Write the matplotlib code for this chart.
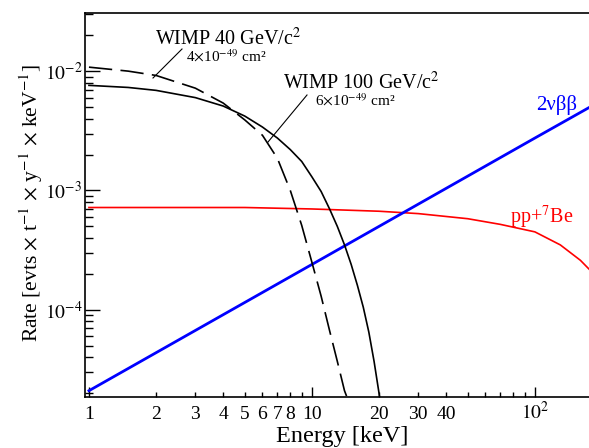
import matplotlib
matplotlib.use("Agg")
import matplotlib.pyplot as plt
from matplotlib.ticker import FixedLocator, FixedFormatter, NullFormatter

plt.rcParams['font.family'] = ['Liberation Serif', 'DejaVu Serif']
plt.rcParams['mathtext.fontset'] = 'stix'

# ---- data ----
E_bb = [1, 10, 100, 200]
R_bb = [2.1e-5, 2.4e-4, 2.75e-3, 5.7e-3]

E_pp = [1, 2, 5, 10, 20, 30, 50, 70, 100, 130, 160, 200]
R_pp = [7.2e-4, 7.2e-4, 7.2e-4, 7.0e-4, 6.7e-4, 6.4e-4, 5.8e-4, 5.2e-4, 4.5e-4, 3.5e-4, 2.6e-4, 1.7e-4]

E_w100 = [1, 1.5, 2, 3, 4, 5, 6, 7, 8, 9, 10, 11, 12, 13, 14, 15, 16, 17, 18, 19, 20, 21]
R_w100 = [7.6e-3, 7.3e-3, 6.9e-3, 6.0e-3, 5.1e-3, 4.2e-3, 3.4e-3, 2.75e-3, 2.2e-3, 1.75e-3,
          1.3e-3, 9.8e-4, 7.0e-4, 5.0e-4, 3.5e-4, 2.4e-4, 1.6e-4, 1.05e-4, 6.5e-5, 3.7e-5,
          2.0e-5, 1.0e-5]

E_w40 = [1, 1.5, 2, 3, 4, 5, 6, 7, 8, 9, 10, 11, 12, 13, 14, 15, 16]
R_w40 = [1.08e-2, 1.0e-2, 9.2e-3, 7.2e-3, 5.4e-3, 3.9e-3, 2.9e-3, 1.86e-3, 1.0e-3, 5.1e-4,
         2.5e-4, 1.3e-4, 6.7e-5, 3.7e-5, 2.1e-5, 1.5e-5, 1.0e-5]

x_major = [1, 10, 100]
x_minor = [2, 3, 4, 5, 6, 7, 8, 9, 20, 30, 40, 50, 60, 70, 80, 90, 200]
x_minor_labels = ['2', '3', '4', '5', '6', '7', '8', '', '20', '30', '40', '', '', '', '', '', '']
x_major_labels = ['1', '10', r'$10^2$']
y_major = [1e-4, 1e-3, 1e-2]
y_major_labels = [r'$10^{-4}$', r'$10^{-3}$', r'$10^{-2}$']

W, H = 589, 448
fig = plt.figure(figsize=(W / 100, H / 100), dpi=100)
ax = fig.add_axes([85 / W, 1 - 397 / H, (602 - 85) / W, (397 - 13) / H])

ax.set_xscale('log')
ax.set_yscale('log')
ax.set_xlim(0.96, 200)
ax.set_ylim(1.86e-5, 3.07e-2)

ax.plot(E_pp, R_pp, color='#ff0000', lw=1.2)
ax.plot(E_bb, R_bb, color='#0000ff', lw=2.0)
ax.plot(E_w100, R_w100, color='black', lw=1.2)
ax.plot(E_w40, R_w40, color='black', lw=1.2, dashes=(14, 5))

ax.spines['right'].set_visible(False)
for s in ax.spines.values():
    s.set_linewidth(1.2)

ax.xaxis.set_major_locator(FixedLocator(x_major))
ax.xaxis.set_major_formatter(FixedFormatter(x_major_labels))
ax.xaxis.set_minor_locator(FixedLocator(x_minor))
ax.xaxis.set_minor_formatter(FixedFormatter(x_minor_labels))
ax.yaxis.set_major_locator(FixedLocator(y_major))
ax.yaxis.set_major_formatter(FixedFormatter(y_major_labels))
ax.yaxis.set_minor_formatter(NullFormatter())

ax.tick_params(axis='x', which='major', direction='in', length=7.5, width=1, labelsize=14, pad=16)
ax.tick_params(axis='x', which='minor', direction='in', length=3.8, width=1, labelsize=14, pad=16)
ax.tick_params(axis='y', which='major', direction='in', length=10.5, width=1, labelsize=14, pad=2)
ax.tick_params(axis='y', which='minor', direction='in', length=5.5, width=1)
ax.tick_params(right=False, top=False, which='both')

for t in ax.xaxis.get_major_ticks() + ax.xaxis.get_minor_ticks():
    t.label1.set_verticalalignment('baseline')

fig.text(342 / W, 1 - 436 / H, 'Energy [keV]', ha='center', va='center', fontsize=17.5)
fig.text(31 / W, 1 - 203 / H, r'Rate [evts $\times$ t$^{-1}$ $\times$ y$^{-1}$ $\times$ keV$^{-1}$]',
         ha='center', va='center', rotation=90, fontsize=15.5)

# annotations
tf = ax.transAxes
def px(x, y):
    return ((x - 85) / (602 - 85), (397 - y) / (397 - 13))

ax.text(*px(155, 45), r'WIMP 40 GeV/c$^2$', transform=tf, fontsize=14.5, ha='left', va='baseline')
ax.text(*px(186, 62), r'4$\times$10$^{-49}$ cm²', transform=tf, fontsize=11, ha='left', va='baseline')
ax.text(*px(283, 89), r'WIMP 100 GeV/c$^2$', transform=tf, fontsize=14.5, ha='left', va='baseline')
ax.text(*px(315, 106), r'6$\times$10$^{-49}$ cm²', transform=tf, fontsize=11, ha='left', va='baseline')
ax.plot(*zip(px(153, 78), px(182, 49)), transform=tf, color='black', lw=0.8)
ax.plot(*zip(px(268, 142), px(307, 95)), transform=tf, color='black', lw=0.8)

ax.text(*px(536, 110), '2νββ', transform=tf, fontsize=15, color='#0000ff', ha='left', va='baseline')
ax.text(*px(510, 223), r'pp+$^{7}$Be', transform=tf, fontsize=14.5, color='#ff0000', ha='left', va='baseline')

fig.savefig('out.png', dpi=100)
